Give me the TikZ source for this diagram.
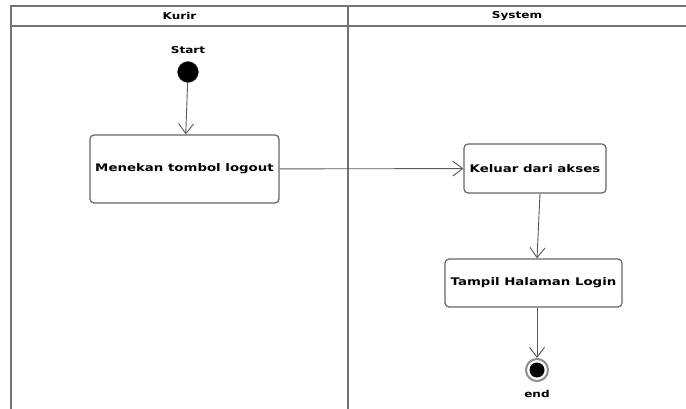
\documentclass[tikz,border=0pt]{standalone}
\usepackage{fontspec}
\setmainfont{DejaVu Sans}[FakeStretch=1.27]
\usetikzlibrary{arrows.meta}
\begin{document}
\begin{tikzpicture}[x=1pt, y=-1pt, >={Straight Barb[length=10pt,width=15pt]},
  lane/.style={draw=black!55, line width=1.3pt},
  act/.style={draw=black!60, line width=1.2pt, rounded corners=4pt, fill=white, font=\bfseries\fontsize{10.5}{12}\selectfont, inner sep=0pt},
  flow/.style={draw=black!65, line width=0.9pt, ->},
  lbl/.style={font=\bfseries\fontsize{9.5}{11}\selectfont}]
\useasboundingbox (0,0) rectangle (686,409);
% swimlanes
\draw[lane](686,6)--(11,6)--(11,409);
\draw[lane](11,26)--(686,26);
\draw[lane](348,6)--(348,409);
\node[lbl] (kurir) at (179.5,16) {Kurir};
\node[lbl] (system) at (517,16) {System};
% start / end
\node[circle, fill=black, draw=black!70, minimum size=21pt, inner sep=0pt] (start) at (188,72) {};
\node[lbl] at (188,50) {Start};
\node[circle, fill=white, draw=black!45, line width=2pt, minimum size=22pt, inner sep=0pt] (end) at (537,370) {};
\fill (end) circle (7.5);
\node[lbl] at (537,394) {end};
% activities
\node[act, minimum width=189pt, minimum height=68pt] (menekan) at (184.5,169) {Menekan tombol logout};
\node[act, minimum width=142pt, minimum height=49pt] (keluar) at (535,168.5) {Keluar dari akses};
\node[act, minimum width=177pt, minimum height=48pt] (tampil) at (533.5,283) {Tampil Halaman Login};
% flows
\draw[flow](start)--(menekan);
\draw[flow](menekan)--(keluar);
\draw[flow](keluar.south-|540,0)--(tampil.north-|537,0);
\draw[flow](tampil.south-|537,0)--(end);
\end{tikzpicture}
\end{document}
